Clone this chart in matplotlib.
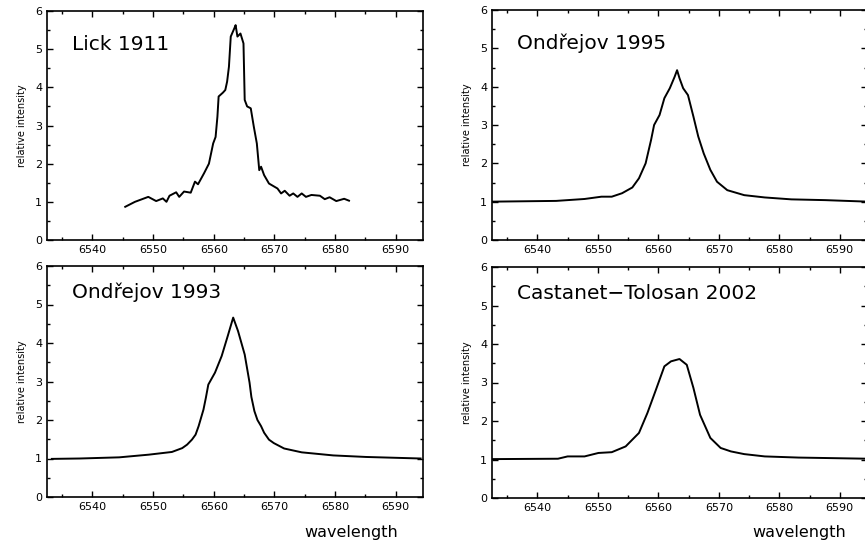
import matplotlib.pyplot as plt
from matplotlib.ticker import MultipleLocator

# Lick 1911
lick_wl = [6545.4, 6547.0, 6549.2, 6550.5, 6551.6, 6552.2, 6552.7, 6553.8, 6554.3, 6555.1,
           6556.2, 6556.9, 6557.4, 6558.4, 6559.2, 6559.9, 6560.3, 6560.6, 6560.8, 6561.5,
           6561.9, 6562.2, 6562.5, 6562.8, 6563.4, 6563.6, 6563.9, 6564.4, 6564.9, 6565.1,
           6565.5, 6566.1, 6566.6, 6567.1, 6567.5, 6567.8, 6568.3, 6569.1, 6570.5, 6571.1,
           6571.7, 6572.5, 6573.1, 6573.8, 6574.5, 6575.2, 6576.1, 6577.5, 6578.3, 6579.1,
           6580.2, 6581.5, 6582.3]
lick_int = [0.87, 1.0, 1.13, 1.02, 1.09, 1.0, 1.16, 1.25, 1.13, 1.27,
            1.24, 1.53, 1.46, 1.75, 2.0, 2.53, 2.7, 3.23, 3.76, 3.86,
            3.93, 4.15, 4.54, 5.33, 5.55, 5.63, 5.33, 5.41, 5.15, 3.67,
            3.5, 3.45, 2.97, 2.53, 1.83, 1.92, 1.70, 1.48, 1.35, 1.22,
            1.29, 1.16, 1.22, 1.13, 1.22, 1.13, 1.18, 1.16, 1.07, 1.12,
            1.02, 1.08, 1.03]

# Ondrejov 1995
ond95_wl = [6532.2, 6543.1, 6547.8, 6550.6, 6552.3, 6554.0, 6555.7, 6556.8, 6557.9, 6558.8,
            6559.3, 6560.2, 6561.0, 6561.9, 6562.7, 6563.1, 6563.5, 6564.1, 6564.9, 6565.8,
            6566.6, 6567.5, 6568.6, 6569.7, 6571.4, 6574.2, 6577.6, 6582.0, 6587.6, 6594.7]
ond95_int = [1.0, 1.02, 1.07, 1.13, 1.13, 1.22, 1.37, 1.61, 2.0, 2.61,
             3.0, 3.26, 3.70, 3.96, 4.26, 4.43, 4.22, 3.96, 3.78, 3.22,
             2.70, 2.26, 1.83, 1.52, 1.30, 1.17, 1.11, 1.06, 1.04, 1.0]

# Ondrejov 1993
ond93_wl = [6533.3, 6537.9, 6544.4, 6549.3, 6553.1, 6554.8, 6555.6, 6556.4, 6557.0, 6557.5,
            6558.3, 6558.7, 6559.1, 6560.2, 6561.3, 6562.3, 6563.2, 6564.0, 6565.1, 6565.9,
            6566.2, 6566.7, 6567.2, 6567.8, 6568.3, 6569.1, 6569.9, 6571.6, 6574.5, 6579.7,
            6585.1, 6594.1]
ond93_int = [0.99, 1.0, 1.03, 1.10, 1.17, 1.27, 1.36, 1.49, 1.62, 1.84,
             2.27, 2.58, 2.92, 3.23, 3.66, 4.18, 4.66, 4.31, 3.70, 2.97,
             2.60, 2.23, 2.0, 1.84, 1.67, 1.49, 1.40, 1.26, 1.16, 1.08,
             1.04, 1.0]

# Castanet-Tolosan 2002
cast_wl = [6532.2, 6543.4, 6545.0, 6547.8, 6550.1, 6552.3, 6554.6, 6556.8, 6558.2, 6559.6,
           6561.0, 6562.1, 6563.5, 6564.7, 6565.8, 6566.9, 6568.6, 6570.3, 6572.0, 6574.2,
           6577.6, 6583.2, 6594.7]
cast_int = [1.01, 1.02, 1.08, 1.08, 1.17, 1.19, 1.34, 1.69, 2.21, 2.81,
            3.42, 3.55, 3.61, 3.46, 2.86, 2.16, 1.56, 1.30, 1.21, 1.14,
            1.08, 1.05, 1.02]

W, H = 865, 543
fig = plt.figure(figsize=(W / 100, H / 100), dpi=100)


def px_axes(left, top, right, bottom):
    return fig.add_axes([left / W, 1 - bottom / H, (right - left) / W, (bottom - top) / H])


panels = [
    (px_axes(47, 11, 423, 240), lick_wl, lick_int, "Lick 1911", 0.855),
    (px_axes(492, 10, 867, 240), ond95_wl, ond95_int, "Ondřejov 1995", 0.855),
    (px_axes(47, 266, 423, 497), ond93_wl, ond93_int, "Ondřejov 1993", 0.887),
    (px_axes(492, 267, 867, 498), cast_wl, cast_int, "Castanet\u2212Tolosan 2002", 0.887),
]

for ax, wl, inten, name, ty in panels:
    ax.plot(wl, inten, color="black", lw=1.4)
    ax.set_xlim(6532.5, 6594.5)
    ax.set_ylim(0, 6)
    ax.xaxis.set_major_locator(MultipleLocator(10))
    ax.xaxis.set_minor_locator(MultipleLocator(5))
    ax.yaxis.set_major_locator(MultipleLocator(1))
    ax.yaxis.set_minor_locator(MultipleLocator(0.5))
    ax.tick_params(which="both", direction="in", top=True, right=True,
                   labelsize=8, width=1)
    ax.tick_params(which="major", length=4)
    ax.tick_params(which="minor", length=2.5)
    for s in ax.spines.values():
        s.set_linewidth(1.2)
    ax.set_ylabel("relative intensity", fontsize=7, labelpad=6)
    ax.text(0.067, ty, name, transform=ax.transAxes, fontsize=14.5,
            color="black", va="center", ha="left")

fig.text(398 / W, 1 - 533 / H, "wavelength", fontsize=11.5, ha="right", va="center")
fig.text(846 / W, 1 - 533 / H, "wavelength", fontsize=11.5, ha="right", va="center")

fig.savefig("out.png", dpi=100)
